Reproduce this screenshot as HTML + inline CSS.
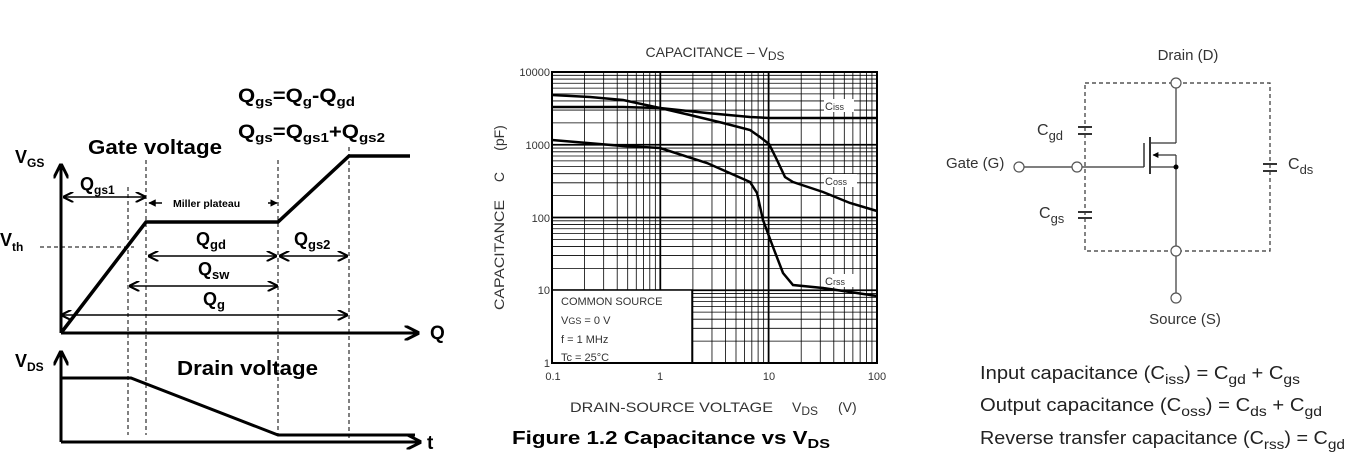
<!DOCTYPE html>
<html><head><meta charset="utf-8"><style>
html,body{margin:0;padding:0;background:#fff}
svg{display:block}
text{font-family:"Liberation Sans",sans-serif}
.b{font-weight:bold}
</style></head><body>
<svg id="s" width="1369" height="472" viewBox="0 0 1369 472" xmlns="http://www.w3.org/2000/svg">
<defs>
<marker id="ar" viewBox="0 0 10 10" refX="9" refY="5" markerWidth="5" markerHeight="5" orient="auto-start-reverse"><path d="M0,0 L10,5 L0,10" fill="none" stroke="#000" stroke-width="2"/></marker>
<marker id="ab" viewBox="0 0 10 10" refX="9" refY="5" markerWidth="7" markerHeight="7" orient="auto-start-reverse"><path d="M0,0 L10,5 L0,10" fill="none" stroke="#000" stroke-width="2"/></marker>
<marker id="af" viewBox="0 0 10 10" refX="9" refY="5" markerWidth="5" markerHeight="5" orient="auto-start-reverse"><path d="M0,0 L10,5 L0,10z" fill="#000"/></marker>
</defs>
<g stroke="#000" fill="none">
<line x1="61" y1="333" x2="61" y2="165" stroke-width="3" marker-end="url(#ar)"/>
<line x1="61" y1="333" x2="418" y2="333" stroke-width="3" marker-end="url(#ar)"/>
<polyline points="61,333 146,222 278,222 349,156 410,156" stroke-width="3.5"/>
<g stroke-dasharray="4,3" stroke-width="1">
<line x1="128" y1="187" x2="128" y2="435"/>
<line x1="146" y1="160" x2="146" y2="435"/>
<line x1="278" y1="160" x2="278" y2="435"/>
<line x1="349" y1="147" x2="349" y2="443"/>
<line x1="40" y1="247" x2="134" y2="247"/>
</g>
<g stroke-width="1.5">
<line x1="64" y1="197" x2="145" y2="197" marker-start="url(#ab)" marker-end="url(#ab)"/>
<line x1="149" y1="256" x2="276" y2="256" marker-start="url(#ab)" marker-end="url(#ab)"/>
<line x1="280" y1="256" x2="347" y2="256" marker-start="url(#ab)" marker-end="url(#ab)"/>
<line x1="130" y1="286" x2="277" y2="286" marker-start="url(#ab)" marker-end="url(#ab)"/>
<line x1="62" y1="315" x2="347" y2="315" marker-start="url(#ab)" marker-end="url(#ab)"/>
<line x1="162" y1="203" x2="149" y2="203" marker-end="url(#af)"/>
<line x1="268" y1="203" x2="277" y2="203" marker-end="url(#af)"/>
</g>
<line x1="61" y1="442" x2="61" y2="352" stroke-width="3" marker-end="url(#ar)"/>
<line x1="61" y1="442" x2="420" y2="442" stroke-width="3" marker-end="url(#ar)"/>
<polyline points="61,378 131,378 278,435 415,435" stroke-width="3"/>
</g>
<g class="b" fill="#000">
<text x="238" y="102" font-size="19" textLength="117" lengthAdjust="spacingAndGlyphs">Q<tspan font-size="13" dy="4">gs</tspan><tspan dy="-4">=Q</tspan><tspan font-size="13" dy="4">g</tspan><tspan dy="-4">-Q</tspan><tspan font-size="13" dy="4">gd</tspan></text>
<text x="238" y="138" font-size="19" textLength="147" lengthAdjust="spacingAndGlyphs">Q<tspan font-size="13" dy="4">gs</tspan><tspan dy="-4">=Q</tspan><tspan font-size="13" dy="4">gs1</tspan><tspan dy="-4">+Q</tspan><tspan font-size="13" dy="4">gs2</tspan></text>
<text x="88" y="154" font-size="20" textLength="134" lengthAdjust="spacingAndGlyphs">Gate voltage</text>
<text x="15" y="163" font-size="18">V<tspan font-size="12" dy="4">GS</tspan></text>
<text x="0" y="246" font-size="18">V<tspan font-size="12" dy="5">th</tspan></text>
<text x="80" y="190" font-size="18">Q<tspan font-size="12" dy="4">gs1</tspan></text>
<text x="173" y="207" font-size="10.5">Miller plateau</text>
<text x="196" y="245" font-size="18">Q<tspan font-size="13" dy="4">gd</tspan></text>
<text x="294" y="245" font-size="18">Q<tspan font-size="13" dy="4">gs2</tspan></text>
<text x="198" y="275" font-size="18">Q<tspan font-size="13" dy="4">sw</tspan></text>
<text x="203" y="305" font-size="18">Q<tspan font-size="13" dy="4">g</tspan></text>
<text x="430" y="339" font-size="19">Q</text>
<text x="15" y="367" font-size="18">V<tspan font-size="12" dy="4">DS</tspan></text>
<text x="177" y="375" font-size="20" textLength="141" lengthAdjust="spacingAndGlyphs">Drain voltage</text>
<text x="427" y="449" font-size="19">t</text>
</g>
<g id="grid" stroke="#000"></g>
<rect x="552" y="290" width="140" height="73" fill="#fff" stroke="#000" stroke-width="1.5"/>
<rect x="552" y="72" width="325" height="291" fill="none" stroke="#000" stroke-width="2"/>
<g fill="none" stroke="#000" stroke-width="2.5">
<polyline points="552,107 623,107 660,108 707,113 750,117 769,118 877,118"/>
<polyline points="552,95 590,97 623,100 660,108 690,115 723,123 750,130 760,137 769,144 777,160 785,177 793,182 823,192 850,203 877,211"/>
<polyline points="552,140 623,146 660,148 707,163 750,182 757,193 763,220 773,247 783,273 793,285 823,288 877,296"/>
</g>
<g font-size="11" fill="#333">
<rect x="824" y="99" width="30" height="13" fill="#fff"/><text x="825" y="110">C<tspan font-size="9">iss</tspan></text>
<rect x="824" y="174" width="33" height="13" fill="#fff"/><text x="825" y="185">C<tspan font-size="9">oss</tspan></text>
<rect x="824" y="274" width="30" height="13" fill="#fff"/><text x="825" y="285">C<tspan font-size="9">rss</tspan></text>
<text x="561" y="305">COMMON SOURCE</text>
<text x="561" y="324">V<tspan font-size="9">GS</tspan> = 0 V</text>
<text x="561" y="343">f = 1 MHz</text>
<text x="561" y="361">Tc = 25°C</text>
</g>
<g font-size="11" fill="#333" text-anchor="end">
<text x="550" y="76">10000</text><text x="550" y="149">1000</text><text x="550" y="222">100</text><text x="550" y="294">10</text><text x="550" y="367">1</text>
</g>
<g font-size="11" fill="#333" text-anchor="middle">
<text x="553" y="380">0.1</text><text x="660" y="380">1</text><text x="769" y="380">10</text><text x="877" y="380">100</text>
</g>
<text x="715" y="57" font-size="14" fill="#333" text-anchor="middle">CAPACITANCE – V<tspan font-size="12" dy="3">DS</tspan></text>
<g font-size="14" fill="#333">
<text x="570" y="412" textLength="203" lengthAdjust="spacingAndGlyphs">DRAIN-SOURCE VOLTAGE</text>
<text x="792" y="412">V<tspan font-size="12" dy="3">DS</tspan></text>
<text x="838" y="412">(V)</text>
<text transform="translate(504,255) rotate(-90)" text-anchor="middle" textLength="110" lengthAdjust="spacingAndGlyphs">CAPACITANCE</text>
<text transform="translate(504,177) rotate(-90)" text-anchor="middle">C</text>
<text transform="translate(504,138) rotate(-90)" text-anchor="middle">(pF)</text>
</g>
<text x="512" y="444" font-size="18" class="b" fill="#000" textLength="318" lengthAdjust="spacingAndGlyphs">Figure 1.2 Capacitance vs V<tspan font-size="13" dy="4">DS</tspan></text>
<g stroke="#333" fill="none" stroke-width="1.2">
<g stroke-dasharray="4,3"><rect x="1085" y="83" width="185" height="168"/></g>
<line x1="1176" y1="88" x2="1176" y2="143"/><line x1="1176" y1="143" x2="1151" y2="143"/>
<line x1="1176" y1="155" x2="1176" y2="246"/><line x1="1176" y1="155" x2="1153" y2="155" marker-end="url(#af)"/>
<line x1="1151" y1="167" x2="1176" y2="167"/>
<line x1="1150" y1="137" x2="1150" y2="174" stroke-width="2"/>
<line x1="1144" y1="143" x2="1144" y2="167" stroke-width="1.5"/>
<line x1="1024" y1="167" x2="1072" y2="167"/><line x1="1082" y1="167" x2="1144" y2="167"/>
<line x1="1176" y1="256" x2="1176" y2="293"/>
<g fill="#fff" stroke="#555"><circle cx="1176" cy="83" r="5"/><circle cx="1176" cy="251" r="5"/><circle cx="1176" cy="298" r="5"/><circle cx="1019" cy="167" r="5"/><circle cx="1077" cy="167" r="5"/></g>
<g stroke-width="2">
<line x1="1078" y1="127" x2="1092" y2="127"/><line x1="1078" y1="134" x2="1092" y2="134"/>
<line x1="1078" y1="212" x2="1092" y2="212"/><line x1="1078" y1="218" x2="1092" y2="218"/>
<line x1="1263" y1="164" x2="1277" y2="164"/><line x1="1263" y1="171" x2="1277" y2="171"/>
</g>
</g>
<circle cx="1176" cy="167" r="2.5" fill="#000"/>
<g font-size="15" fill="#333">
<text x="1188" y="60" text-anchor="middle">Drain (D)</text>
<text x="1185" y="324" text-anchor="middle">Source (S)</text>
<text x="946" y="168">Gate (G)</text>
<text x="1037" y="135" font-size="16">C<tspan font-size="13" dy="5">gd</tspan></text>
<text x="1039" y="218" font-size="16">C<tspan font-size="13" dy="5">gs</tspan></text>
<text x="1288" y="169" font-size="16">C<tspan font-size="13" dy="5">ds</tspan></text>
</g>
<g font-size="18" fill="#222">
<text x="980" y="379" textLength="320" lengthAdjust="spacingAndGlyphs">Input capacitance (C<tspan font-size="14" dy="5">iss</tspan><tspan dy="-5">) = C</tspan><tspan font-size="14" dy="5">gd</tspan><tspan dy="-5"> + C</tspan><tspan font-size="14" dy="5">gs</tspan></text>
<text x="980" y="411" textLength="342" lengthAdjust="spacingAndGlyphs">Output capacitance (C<tspan font-size="14" dy="5">oss</tspan><tspan dy="-5">) = C</tspan><tspan font-size="14" dy="5">ds</tspan><tspan dy="-5"> + C</tspan><tspan font-size="14" dy="5">gd</tspan></text>
<text x="980" y="444" textLength="365" lengthAdjust="spacingAndGlyphs">Reverse transfer capacitance (C<tspan font-size="14" dy="5">rss</tspan><tspan dy="-5">) = C</tspan><tspan font-size="14" dy="5">gd</tspan></text>
</g>
</svg>
<script>
var g=document.getElementById('grid'),h='';
function L(x1,y1,x2,y2,w){h+='<line x1="'+x1+'" y1="'+y1+'" x2="'+x2+'" y2="'+y2+'" stroke-width="'+w+'"/>';}
for(var d=0;d<3;d++)for(var k=1;k<10;k++){var x=552+108.3*(d+Math.log10(k));L(x,72,x,363,k==1?1.8:0.8);}
for(var d=0;d<4;d++)for(var k=1;k<10;k++){var y=363-72.75*(d+Math.log10(k));L(552,y,877,y,k==1?1.8:0.8);}
g.innerHTML=h;
</script>
</body></html>
